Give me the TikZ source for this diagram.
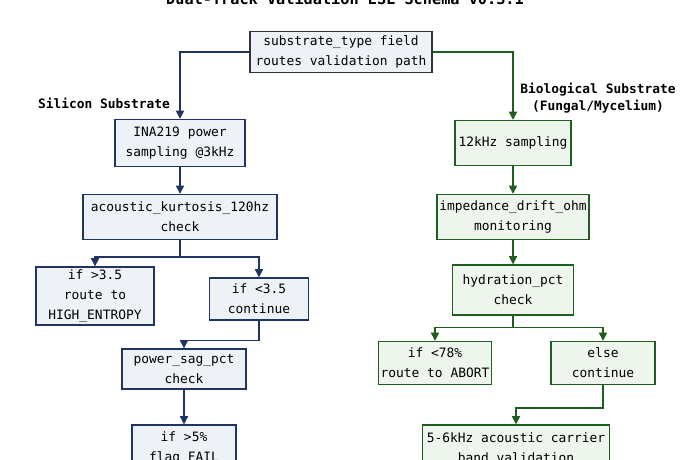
\documentclass[tikz,border=0pt]{standalone}
\usepackage{fontspec}
\setmonofont{DejaVu Sans Mono}
\usetikzlibrary{arrows.meta,positioning}
\definecolor{siblue}{HTML}{1F3460}
\definecolor{sifill}{HTML}{EEF1F6}
\definecolor{biogreen}{HTML}{1E5E1E}
\definecolor{biofill}{HTML}{EEF5EC}

\begin{document}
\begin{tikzpicture}[
    x=0.03cm, y=-0.03cm,
    every node/.style={font=\ttfamily\fontsize{11}{17}\selectfont},
    box/.style={rectangle, draw, line width=1.2pt, align=center, inner sep=2pt},
    sil/.style={box, draw=siblue, fill=sifill},
    bio/.style={box, draw=biogreen, fill=biofill},
    head/.style={rectangle, draw=black!80, line width=1.2pt, fill=sifill, align=center},
    silflow/.style={-{Triangle[length=7pt,width=7pt,fill=siblue]}, line width=1.2pt, draw=siblue},
    bioflow/.style={-{Triangle[length=7pt,width=7pt,fill=biogreen]}, line width=1.2pt, draw=biogreen}
]
\useasboundingbox (0,0) rectangle (690,460);

% Title (cut at the top edge)
\node[font=\ttfamily\bfseries\fontsize{13}{15}\selectfont] (title) at (345,-2) {Dual-Track Validation ESL Schema v0.3.1};

% Router
\node[head, minimum width=5.46cm, minimum height=1.23cm] (router) at (341,52) {substrate\_type field\\routes validation path};

% Track labels
\node[font=\ttfamily\bfseries\fontsize{11}{14}\selectfont] (siltag) at (104,103) {Silicon Substrate};
\node[font=\ttfamily\bfseries\fontsize{11}{14}\selectfont, align=center] (biotag) at (598,98) {Biological Substrate\\(Fungal/Mycelium)};

% Silicon track
\node[sil, minimum width=3.9cm, minimum height=1.41cm] (ina) at (180,143) {INA219 power\\sampling @3kHz};
\node[sil, minimum width=5.82cm, minimum height=1.35cm] (kurt) at (180,217) {acoustic\_kurtosis\_120hz\\check};
\node[sil, minimum width=3.54cm, minimum height=1.74cm] (high) at (95,296) {if >3.5\\route to\\HIGH\_ENTROPY};
\node[sil, minimum width=2.97cm, minimum height=1.26cm] (cont) at (259,299) {if <3.5\\continue};
\node[sil, minimum width=3.72cm, minimum height=1.2cm] (sag) at (184,369) {power\_sag\_pct\\check};
\node[sil, minimum width=3.12cm, minimum height=1.38cm] (fail) at (184,448) {if >5\%\\flag FAIL};

% Biological track
\node[bio, minimum width=3.48cm, minimum height=1.35cm] (khz) at (513,143) {12kHz sampling};
\node[bio, minimum width=4.26cm, minimum height=1.35cm] (drift) at (513,217) {impedance\_drift\_ohm\\monitoring};
\node[bio, minimum width=3.63cm, minimum height=1.5cm] (hyd) at (513,290) {hydration\_pct\\check};
\node[bio, minimum width=3.39cm, minimum height=1.29cm] (abort) at (435,363) {if <78\%\\route to ABORT};
\node[bio, minimum width=3.12cm, minimum height=1.29cm] (else) at (603,363) {else\\continue};
\node[bio, minimum width=5.61cm, minimum height=1.38cm] (band) at (516,448) {5-6kHz acoustic carrier\\band validation};

% Routing from the router
\draw[silflow] (router.west) -| (ina.north);
\draw[bioflow] (router.east) -| (khz.north);

% Silicon connections
\draw[silflow] (ina) -- (kurt);
\draw[silflow] (kurt.south) -- ++(0,17) -| (high.north);
\draw[silflow] (kurt.south) -- ++(0,17) -| (cont.north);
\draw[silflow] (cont.south) -- ++(0,20) -| (sag.north);
\draw[silflow] (sag) -- (fail);

% Biological connections
\draw[bioflow] (khz) -- (drift);
\draw[bioflow] (drift) -- (hyd);
\draw[bioflow] (hyd.south) -- ++(0,12) -| (abort.north);
\draw[bioflow] (hyd.south) -- ++(0,12) -| (else.north);
\draw[bioflow] (else.south) -- ++(0,23) -| (band.north);

\end{tikzpicture}
\end{document}
